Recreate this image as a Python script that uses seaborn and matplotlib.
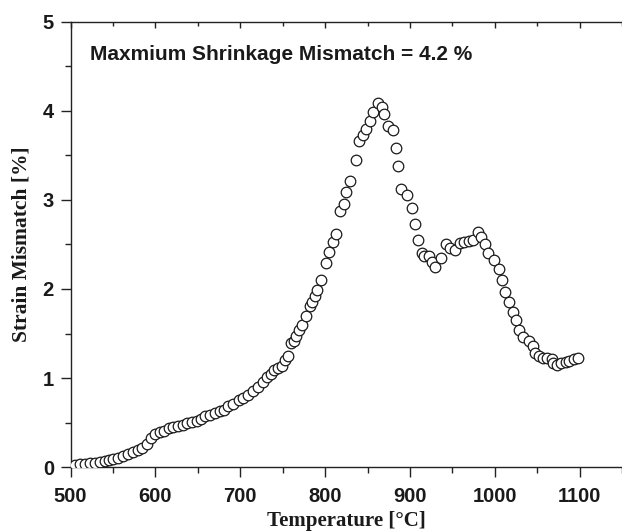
import numpy as np
import pandas as pd
import matplotlib
matplotlib.use("Agg")
import matplotlib.pyplot as plt
import seaborn as sns
from matplotlib.ticker import MultipleLocator

temperature = [
    500, 505, 511, 517, 523, 529, 535, 540, 545, 550,
    556, 562, 568, 574, 579, 584, 590, 595, 599, 605,
    610, 616, 621, 627, 632, 637, 643, 649, 654, 658,
    664, 670, 676, 681, 686, 692, 698, 703, 709, 715,
    721, 727, 731, 736, 740, 744, 749, 753, 756, 760,
    763, 766, 769, 773, 778, 782, 785, 788, 791, 795,
    801, 805, 809, 813, 818, 822, 825, 829, 836, 840,
    845, 848, 853, 857, 862, 867, 869, 874, 880, 884,
    886, 890, 896, 902, 906, 910, 914, 917, 922, 926,
    930, 937, 942, 947, 953, 959, 964, 970, 974, 980,
    984, 988, 992, 999, 1005, 1008, 1012, 1017, 1021, 1025,
    1029, 1033, 1040, 1045, 1048, 1052, 1057, 1062, 1067, 1069,
    1073, 1078, 1084, 1088, 1093, 1098,
]
strain = [
    0.00, 0.02, 0.03, 0.04, 0.045, 0.05, 0.06, 0.07, 0.08, 0.09,
    0.105, 0.13, 0.15, 0.17, 0.19, 0.21, 0.26, 0.33, 0.37, 0.39,
    0.41, 0.44, 0.45, 0.46, 0.47, 0.49, 0.51, 0.52, 0.54, 0.57,
    0.59, 0.61, 0.63, 0.64, 0.69, 0.71, 0.75, 0.78, 0.81, 0.85,
    0.90, 0.96, 1.01, 1.05, 1.09, 1.11, 1.14, 1.20, 1.25, 1.39,
    1.42, 1.47, 1.54, 1.60, 1.70, 1.81, 1.85, 1.92, 1.99, 2.10,
    2.29, 2.42, 2.53, 2.62, 2.88, 2.95, 3.09, 3.21, 3.45, 3.66,
    3.73, 3.80, 3.89, 3.99, 4.09, 4.04, 3.97, 3.83, 3.78, 3.58,
    3.38, 3.12, 3.05, 2.91, 2.73, 2.55, 2.40, 2.37, 2.37, 2.30,
    2.25, 2.35, 2.50, 2.46, 2.44, 2.52, 2.53, 2.54, 2.55, 2.64,
    2.58, 2.50, 2.40, 2.33, 2.22, 2.10, 1.97, 1.85, 1.74, 1.65,
    1.54, 1.46, 1.42, 1.36, 1.28, 1.25, 1.23, 1.22, 1.21, 1.17,
    1.15, 1.17, 1.18, 1.19, 1.21, 1.23,
]
x_ticks = [500, 600, 700, 800, 900, 1000, 1100]
y_ticks = [0, 1, 2, 3, 4, 5]
annotation = "Maxmium Shrinkage Mismatch = 4.2 %"

df = pd.DataFrame({"Temperature": temperature, "Strain": strain})

sns.set_style("white")
fig = plt.figure(figsize=(6.22, 5.32), dpi=100)
ax = fig.add_axes([0.1135, 0.122, 0.8865, 0.837])

sns.scatterplot(data=df, x="Temperature", y="Strain", ax=ax,
                marker="o", s=58, facecolor="white", edgecolor="#1a1a1a",
                linewidth=0.9, zorder=3)

ax.set_xlim(500, 1150)
ax.set_ylim(0, 5)
ax.set_xticks(x_ticks)
ax.set_yticks(y_ticks)
ax.xaxis.set_minor_locator(MultipleLocator(50))
ax.yaxis.set_minor_locator(MultipleLocator(0.5))

for side in ["left", "bottom", "top"]:
    ax.spines[side].set_visible(True)
    ax.spines[side].set_color("#222222")
    ax.spines[side].set_linewidth(1.0)
ax.spines["right"].set_visible(False)

ax.tick_params(axis="both", which="major", direction="out", length=7,
               width=1.0, color="#222222", bottom=True, left=True, top=False,
               pad=7)
ax.tick_params(axis="y", which="major", pad=5)
ax.tick_params(axis="both", which="minor", direction="out", length=4,
               width=1.0, color="#222222", bottom=True, left=True, top=False)

# inward ticks on the top spine
sec = ax.secondary_xaxis("top")
sec.set_xticks(x_ticks)
sec.xaxis.set_minor_locator(MultipleLocator(50))
sec.tick_params(axis="x", which="major", direction="in", length=4,
                width=1.0, color="#222222", labeltop=False)
sec.tick_params(axis="x", which="minor", direction="in", length=3,
                width=1.0, color="#222222")
sec.spines["top"].set_visible(False)

for lab in ax.get_xticklabels() + ax.get_yticklabels():
    lab.set_fontfamily("Liberation Sans")
    lab.set_fontweight("bold")
    lab.set_fontsize(14.5)
    lab.set_color("#1a1a1a")

ax.set_xlabel("Temperature [°C]", fontfamily="Liberation Serif",
              fontweight="bold", fontsize=15, color="#1a1a1a", labelpad=4)
ax.set_ylabel("Strain Mismatch [%]", fontfamily="Liberation Serif",
              fontweight="bold", fontsize=15.5, color="#1a1a1a", labelpad=8)

ax.text(0.035, 0.926, annotation, transform=ax.transAxes,
        fontfamily="Liberation Sans", fontweight="bold", fontsize=15,
        color="#1a1a1a", va="center", ha="left")

fig.savefig("out.png", dpi=100)
